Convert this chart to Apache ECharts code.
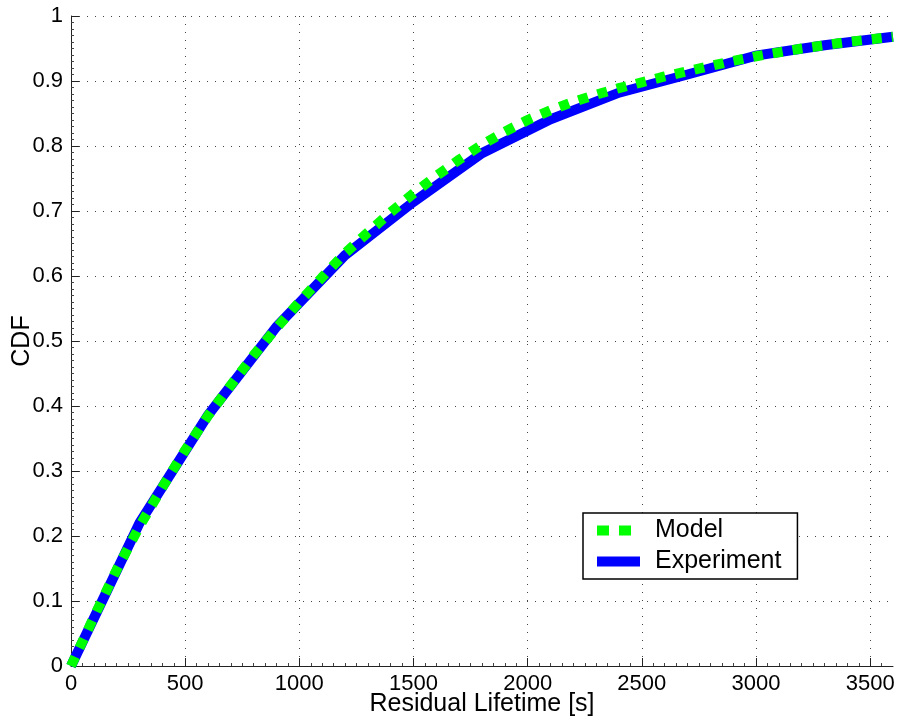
<!DOCTYPE html>
<html>
<head>
<meta charset="utf-8">
<script src="https://cdn.jsdelivr.net/npm/echarts@6/dist/echarts.min.js"></script>
<style>
html,body{margin:0;padding:0;background:#fff;}
#chart{width:898px;height:717px;}
</style>
</head>
<body>
<div id="chart"></div>
<script>
// Residual lifetime (s) and CDF values
var modelX = [0,100,200,300,400,500,600,700,800,900,1000,1100,1200,1300,1400,1500,1600,1700,1800,1900,2000,2100,2200,2300,2400,2500,2600,2700,2800,2900,3000,3100,3200,3300,3400,3500,3600];
var modelY = [0,0.075,0.148,0.215,0.275,0.332,0.385,0.432,0.478,0.52,0.56,0.598,0.635,0.667,0.698,0.727,0.754,0.779,0.802,0.822,0.84,0.855,0.868,0.879,0.889,0.898,0.907,0.915,0.923,0.931,0.938,0.944,0.95,0.955,0.96,0.964,0.968];
var expX = [0,300,600,900,1200,1500,1800,2100,2400,2700,3000,3300,3600];
var expY = [0,0.22,0.386,0.522,0.632,0.714,0.789,0.841,0.882,0.91,0.939,0.955,0.968];
var xTicks = [0,500,1000,1500,2000,2500,3000,3500];

function pairs(xs, ys){ return xs.map(function(x,i){ return [x, ys[i]]; }); }

var font = '"Liberation Sans", Arial, Helvetica, sans-serif';
var chart = echarts.init(document.getElementById('chart'), null, {renderer:'canvas'});
chart.setOption({
  animation: false,
  backgroundColor: '#ffffff',
  grid: {left: 71, right: 5, top: 16, bottom: 51, containLabel: false, outerBoundsMode: 'none'},
  legend: {
    orient: 'vertical',
    left: 583, top: 513,
    padding: [5, 16, 5, 14],
    itemGap: 6,
    itemWidth: 43, itemHeight: 10,
    borderColor: '#000', borderWidth: 1.5,
    backgroundColor: '#fff',
    textStyle: {fontFamily: font, fontSize: 25, color: '#000', padding: [0,0,0,10]},
    data: [
      {name: 'Model', icon: 'path://M0,0h12v10h-12z M22,0h12v10h-12z M42.9,5L43,5', itemStyle: {color: '#00ff00'}},
      {name: 'Experiment', icon: 'rect', itemStyle: {color: '#0000ff'}}
    ]
  },
  xAxis: {
    type: 'value', min: 0, max: 3600, interval: 500,
    name: 'Residual Lifetime [s]', nameLocation: 'middle', nameGap: 26, nameMoveOverlap: false,
    nameTextStyle: {fontFamily: font, fontSize: 25, color: '#000'},
    axisLine: {show: true, lineStyle: {color: '#222', width: 1}},
    axisTick: {show: true, inside: true, length: 8, lineStyle: {color: '#222'}, customValues: xTicks},
    minorTick: {show: true, splitNumber: 10, length: 3, lineStyle: {color: '#444'}},
    axisLabel: {fontFamily: font, fontSize: 22, color: '#000', margin: 7, customValues: xTicks,
                formatter: function(v){ return String(v); }},
    splitLine: {show: true, lineStyle: {color: '#444', width: 1, type: [1, 7]}}
  },
  yAxis: {
    type: 'value', min: 0, max: 1, interval: 0.1,
    name: 'CDF', nameLocation: 'middle', nameGap: 36, nameMoveOverlap: false,
    nameTextStyle: {fontFamily: font, fontSize: 25, color: '#000'},
    axisLine: {show: true, lineStyle: {color: '#222', width: 1}},
    axisTick: {show: true, inside: true, length: 8, lineStyle: {color: '#222'}},
    minorTick: {show: true, splitNumber: 10, length: 3, lineStyle: {color: '#444'}},
    axisLabel: {fontFamily: font, fontSize: 22, color: '#000', margin: 8,
                formatter: function(v){ return String(v); }},
    splitLine: {show: true, lineStyle: {color: '#444', width: 1, type: [1, 7]}}
  },
  series: [
    {
      name: 'Experiment', type: 'line', data: pairs(expX, expY),
      symbol: 'none', showSymbol: false, z: 2,
      lineStyle: {color: '#0000ff', width: 10, cap: 'butt', join: 'miter'},
      itemStyle: {color: '#0000ff'}
    },
    {
      name: 'Model', type: 'line', data: pairs(modelX, modelY),
      symbol: 'none', showSymbol: false, z: 3,
      lineStyle: {color: '#00ff00', width: 10, type: [10, 10], cap: 'butt'},
      itemStyle: {color: '#00ff00'}
    }
  ]
});
</script>
</body>
</html>
